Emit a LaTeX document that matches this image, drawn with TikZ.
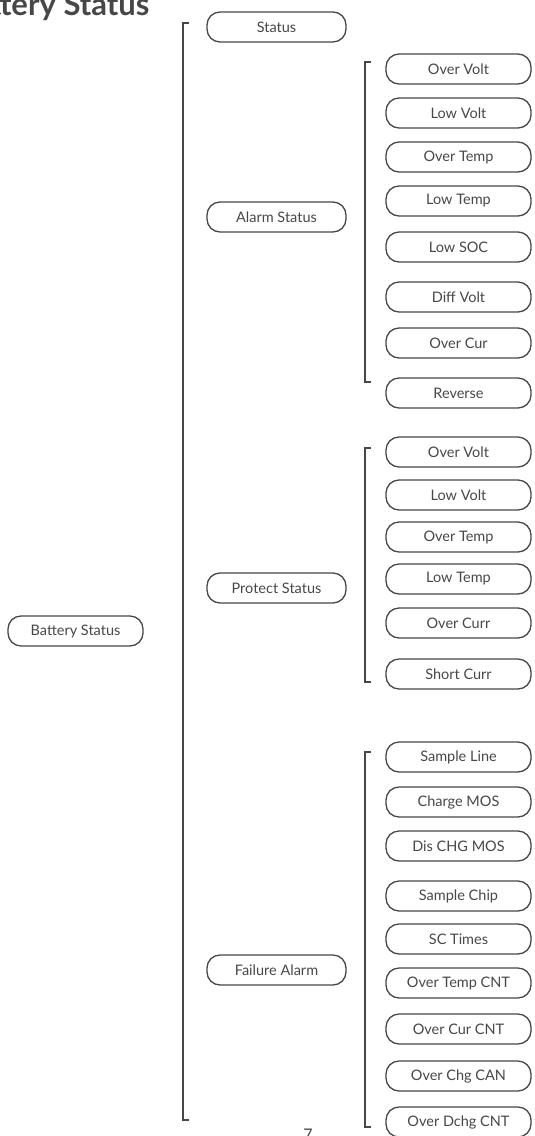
\documentclass[tikz,border=0pt]{standalone}
\usepackage{fontspec}
\setmainfont{Lato}
\definecolor{ink}{HTML}{474747}
\tikzset{
  box/.style={draw=ink, line width=1.3pt, rounded corners=13pt,
    minimum width=139pt, minimum height=30pt, inner sep=0pt,
    text=ink, font=\fontsize{14.5}{17}\selectfont},
  leaf/.style={box, minimum width=145pt},
  bracket/.style={draw=ink, line width=1.3pt}
}
\begin{document}
\begin{tikzpicture}[x=1pt,y=-1pt]
      \useasboundingbox (0,0) rectangle (535,1136);
      \node[anchor=base east, text=ink, font=\bfseries\fontsize{31}{36}\selectfont]
        (title) at (153,15) {Battery Status};
      \node[anchor=north, text=ink, font=\fontsize{16}{19}\selectfont]
        (page) at (308,1125) {7};
      \draw
        (75.5,631) node[box, minimum width=135pt] (battery){Battery Status}
        (276.5,27) node[box] (status){Status}
        (276.5,217) node[box] (alarm){Alarm Status}
        (276.5,588) node[box] (protect){Protect Status}
        (276.5,970) node[box] (failure){Failure Alarm};
      \draw
        (458.5,69) node[leaf] (a1){Over Volt}
        (458.5,113) node[leaf] (a2){Low Volt}
        (458.5,157) node[leaf] (a3){Over Temp}
        (458.5,201) node[leaf] (a4){Low Temp}
        (458.5,247) node[leaf] (a5){Low SOC}
        (458.5,297) node[leaf] (a6){Diff Volt}
        (458.5,343) node[leaf] (a7){Over Cur}
        (458.5,393) node[leaf] (a8){Reverse};
      \draw
        (458.5,452) node[leaf] (p1){Over Volt}
        (458.5,495) node[leaf] (p2){Low Volt}
        (458.5,537) node[leaf] (p3){Over Temp}
        (458.5,579) node[leaf] (p4){Low Temp}
        (458.5,623) node[leaf] (p5){Over Curr}
        (458.5,674) node[leaf] (p6){Short Curr};
      \draw
        (458.5,757) node[leaf] (f1){Sample Line}
        (458.5,802) node[leaf] (f2){Charge MOS}
        (458.5,846) node[leaf] (f3){Dis CHG MOS}
        (458.5,896) node[leaf] (f4){Sample Chip}
        (458.5,939) node[leaf] (f5){SC Times}
        (458.5,983) node[leaf] (f6){Over Temp CNT}
        (458.5,1029) node[leaf] (f7){Over Cur CNT}
        (458.5,1076) node[leaf] (f8){Over Chg CAN}
        (458.5,1122) node[leaf] (f9){Over Dchg CNT};
      \begin{scope}[bracket]
        \draw (189,23) -- (183,23) -- (183,1120) -- (189,1120);
        \draw (371,62) -- (365,62) -- (365,382) -- (371,382);
        \draw (371,448) -- (365,448) -- (365,682) -- (371,682);
        \draw (371,752) -- (365,752) -- (365,1127) -- (371,1127);
      \end{scope}
    \end{tikzpicture}
\end{document}
